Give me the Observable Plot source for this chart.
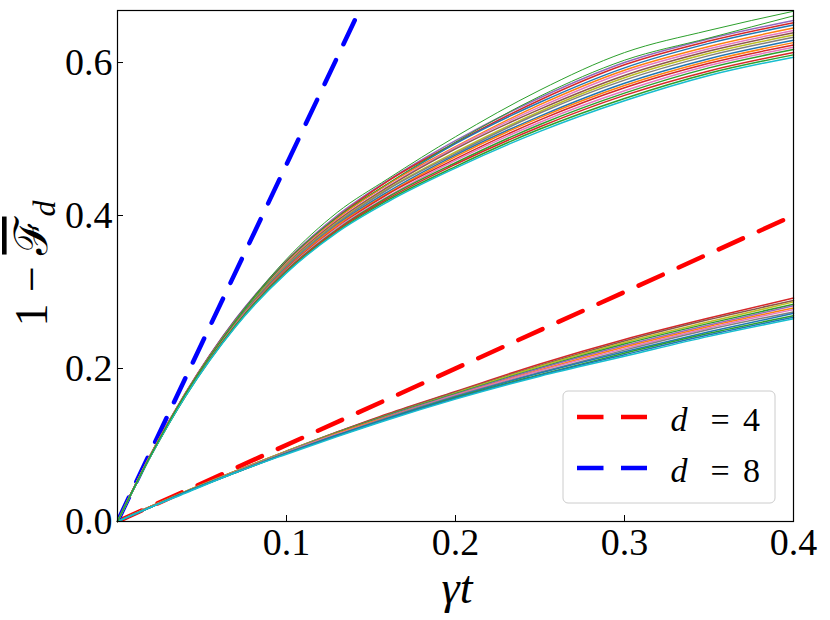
<!DOCTYPE html>
<html><head><meta charset="utf-8">
<script src="https://cdn.jsdelivr.net/npm/d3@7"></script>
<script src="https://cdn.jsdelivr.net/npm/@observablehq/plot@0.6"></script>
<style>body{margin:0;background:#fff} svg{display:block}</style>
</head><body><div id="chart"></div>
<script>
// sample times (gamma t)
const tGrid = [0, 0.02, 0.04, 0.07, 0.10, 0.13, 0.16, 0.20, 0.25, 0.30, 0.35, 0.40];

// d = 8 trajectories (upper bundle)
const upperSeries = [
  [0,0.089,0.167,0.265,0.341,0.400,0.446,0.498,0.554,0.600,0.631,0.655],
  [0,0.089,0.167,0.264,0.340,0.398,0.445,0.495,0.551,0.597,0.628,0.652],
  [0,0.089,0.166,0.264,0.339,0.397,0.441,0.494,0.548,0.593,0.625,0.649],
  [0,0.089,0.166,0.263,0.338,0.396,0.441,0.490,0.545,0.590,0.621,0.645],
  [0,0.088,0.166,0.262,0.337,0.394,0.438,0.489,0.542,0.587,0.618,0.642],
  [0,0.088,0.166,0.262,0.336,0.393,0.437,0.487,0.539,0.583,0.615,0.639],
  [0,0.088,0.165,0.261,0.335,0.391,0.435,0.483,0.536,0.580,0.612,0.636],
  [0,0.088,0.165,0.260,0.334,0.390,0.434,0.481,0.534,0.577,0.609,0.633],
  [0,0.088,0.165,0.260,0.332,0.388,0.431,0.479,0.530,0.573,0.605,0.629],
  [0,0.088,0.165,0.259,0.331,0.387,0.429,0.477,0.528,0.570,0.602,0.626],
  [0,0.088,0.164,0.258,0.330,0.385,0.428,0.474,0.525,0.567,0.599,0.623],
  [0,0.088,0.164,0.258,0.329,0.384,0.425,0.472,0.522,0.563,0.596,0.620],
  [0,0.087,0.164,0.257,0.328,0.382,0.424,0.469,0.519,0.560,0.593,0.617],
  [0,0.087,0.164,0.256,0.327,0.381,0.422,0.467,0.516,0.557,0.589,0.613],
  [0,0.087,0.163,0.256,0.326,0.379,0.420,0.464,0.513,0.553,0.586,0.610],
  [0,0.087,0.163,0.255,0.325,0.378,0.418,0.462,0.510,0.550,0.583,0.607],
  [0,0.088,0.166,0.263,0.343,0.404,0.448,0.503,0.564,0.613,0.642,0.667],
  [0,0.088,0.166,0.262,0.340,0.398,0.442,0.496,0.556,0.603,0.632,0.661]
];
const upperColors = ["#9467bd","#d62728","#1f77b4","#ff7f0e","#e377c2","#8c564b","#bcbd22","#7f7f7f",
  "#1f77b4","#ff7f0e","#d62728","#e377c2","#2ca02c","#d62728","#2ca02c","#17becf","#2ca02c","#2ca02c"];
const upperWidths = [1.5,1.5,1.5,1.5,1.5,1.5,1.5,1.5,1.5,1.5,1.5,1.5,1.5,1.5,1.5,1.5,1,1];

// d = 4 trajectories (lower bundle)
const lowerSeries = [
  [0,0.020,0.039,0.066,0.092,0.117,0.141,0.170,0.206,0.238,0.266,0.292],
  [0,0.020,0.039,0.066,0.092,0.117,0.140,0.169,0.204,0.236,0.264,0.289],
  [0,0.020,0.039,0.066,0.092,0.116,0.139,0.168,0.203,0.234,0.261,0.287],
  [0,0.020,0.038,0.065,0.091,0.116,0.139,0.167,0.201,0.232,0.259,0.284],
  [0,0.020,0.038,0.065,0.091,0.115,0.138,0.166,0.200,0.230,0.257,0.282],
  [0,0.020,0.038,0.065,0.090,0.115,0.137,0.165,0.198,0.228,0.255,0.279],
  [0,0.019,0.038,0.065,0.090,0.114,0.136,0.165,0.197,0.226,0.253,0.277],
  [0,0.019,0.038,0.065,0.090,0.113,0.136,0.164,0.195,0.224,0.251,0.274],
  [0,0.019,0.038,0.064,0.089,0.113,0.135,0.163,0.194,0.222,0.248,0.272],
  [0,0.019,0.038,0.064,0.089,0.112,0.134,0.162,0.192,0.220,0.246,0.269],
  [0,0.019,0.038,0.064,0.089,0.112,0.134,0.161,0.191,0.218,0.244,0.267],
  [0,0.019,0.037,0.064,0.088,0.111,0.133,0.160,0.190,0.216,0.242,0.265]
];
const lowerColors = ["#d62728","#8c564b","#bcbd22","#2ca02c","#9467bd","#ff7f0e",
  "#e377c2","#7f7f7f","#1f77b4","#2ca02c","#1f77b4","#17becf"];

// short-time reference lines
const refX = [0, 0.4];
const refD4 = [0, 0.4];
const refD8 = [0, 1.8667];
const refColors = ["#ff0000", "#0000ff"];
const legendLabels = ["4", "8"];

const xTicks = [0.1, 0.2, 0.3, 0.4];
const yTicks = [0.0, 0.2, 0.4, 0.6];

const curveRows = [];
lowerSeries.forEach((s, i) => s.forEach((v, j) => curveRows.push({t: tGrid[j], v, id: "l" + i, c: lowerColors[i], w: 1.5})));
upperSeries.forEach((s, i) => s.forEach((v, j) => curveRows.push({t: tGrid[j], v, id: "u" + i, c: upperColors[i], w: upperWidths[i]})));
const refRows = [];
[refD4, refD8].forEach((ys, i) => ys.forEach((v, j) => refRows.push({t: refX[j], v, id: "r" + i, c: refColors[i]})));

const FONT = "'Liberation Serif', serif";
const chart = Plot.plot({
  width: 830, height: 620,
  marginLeft: 117, marginRight: 37, marginTop: 10, marginBottom: 99,
  style: {fontSize: "38px", background: "white", color: "black"},
  x: {domain: [0, 0.4]},
  y: {domain: [0, 0.668]},
  color: {type: "identity"},
  marks: [
    Plot.line(refRows, {x: "t", y: "v", z: "id", stroke: "c", strokeWidth: 4.5, strokeDasharray: "26.5,17.5", clip: true}),
    Plot.line(curveRows, {x: "t", y: "v", z: "id", stroke: "c", strokeWidth: "w", curve: "monotone-x"}),
    Plot.frame({stroke: "black", strokeWidth: 1.2}),
    Plot.axisX(xTicks, {tickSize: 6, dy: -6, tickFormat: () => "", label: null}),
    Plot.axisX(xTicks, {tickSize: 0, tickPadding: 7, tickFormat: d => d.toFixed(1), fontSize: 38, label: null}),
    Plot.axisY(yTicks, {tickSize: 6, dx: 6, tickFormat: () => "", label: null}),
    Plot.axisY(yTicks, {tickSize: 0, tickPadding: 5, tickFormat: d => d.toFixed(1), fontSize: 38, label: null})
  ]
});
document.getElementById("chart").appendChild(chart);

const svg = d3.select(chart);
// x label
svg.append("text").attr("x", 457).attr("y", 603).attr("text-anchor", "middle")
  .attr("font-style", "italic").attr("font-size", 46).attr("fill", "black")
  .text("γt");
// y label
const yl = svg.append("text").attr("transform", "translate(47,263.5) rotate(-90)")
  .attr("text-anchor", "middle").attr("font-size", 46).attr("fill", "black");
yl.append("tspan").text("1 − ");
yl.append("tspan").style("text-decoration", "overline").text("ℱ");
yl.append("tspan").attr("font-style", "italic").attr("font-size", 32).attr("dy", 8).text("d");

// legend
const lg = svg.append("g");
lg.append("rect").attr("x", 563).attr("y", 391).attr("width", 212).attr("height", 112).attr("rx", 5)
  .attr("fill", "white").attr("fill-opacity", 0.8).attr("stroke", "#cccccc").attr("stroke-width", 1);
legendLabels.forEach((lab, i) => {
  const y = 417 + i * 51;
  lg.append("line").attr("x1", 577).attr("x2", 647).attr("y1", y).attr("y2", y)
    .attr("stroke", refColors[i]).attr("stroke-width", 4.5).attr("stroke-dasharray", "26.5,17.5");
  const ty = y + 14;
  lg.append("text").attr("x", 679).attr("y", ty).attr("font-style", "italic")
    .attr("font-size", 34).attr("fill", "black").text("d");
  lg.append("text").attr("x", 720).attr("y", ty).attr("text-anchor", "middle")
    .attr("font-size", 34).attr("fill", "black").text("=");
  lg.append("text").attr("x", 760).attr("y", ty).attr("text-anchor", "end")
    .attr("font-size", 34).attr("fill", "black").text(lab);
});

// force the serif face on every text element (inline style beats stylesheet rules)
svg.selectAll("text").style("font-family", FONT);
</script>
</body></html>
